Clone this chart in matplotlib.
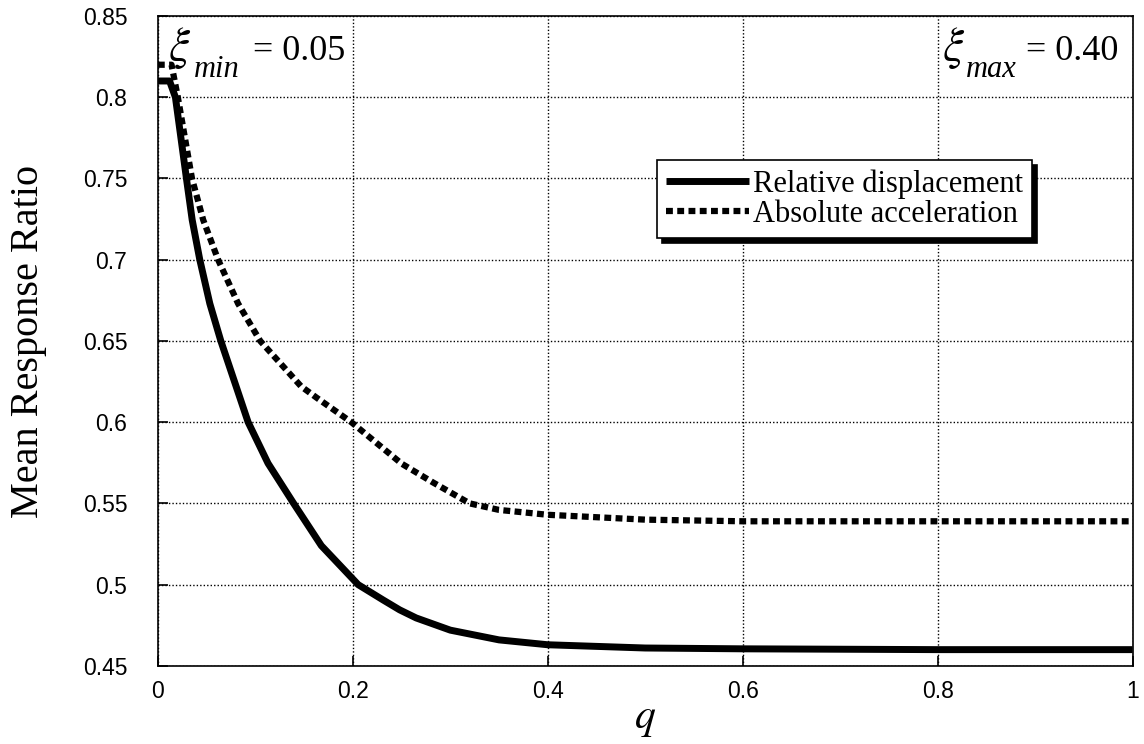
import matplotlib.pyplot as plt
import numpy as np

plt.rcParams['mathtext.fontset'] = 'stix'

# relative displacement (solid)
q_disp = [0, 0.012, 0.018, 0.0293, 0.0352, 0.043, 0.0533, 0.0646, 0.0926, 0.113,
          0.1393, 0.1677, 0.2055, 0.231, 0.248, 0.265, 0.30, 0.35, 0.40, 0.50,
          0.60, 0.80, 1.0]
r_disp = [0.81, 0.81, 0.80, 0.75, 0.7245, 0.70, 0.673, 0.65, 0.60, 0.5747,
          0.55, 0.524, 0.50, 0.4906, 0.4845, 0.4795, 0.472, 0.466, 0.463, 0.461,
          0.4605, 0.46, 0.46]

# absolute acceleration (dashed)
q_acc = [0, 0.014, 0.0205, 0.035, 0.0465, 0.0618, 0.0823, 0.105, 0.135, 0.147,
         0.163, 0.1985, 0.25, 0.282, 0.32, 0.35, 0.40, 0.50, 0.60, 0.80, 1.0]
r_acc = [0.82, 0.82, 0.80, 0.75, 0.7245, 0.70, 0.673, 0.65, 0.63, 0.622,
         0.615, 0.60, 0.5745, 0.563, 0.55, 0.546, 0.543, 0.540, 0.539, 0.539, 0.539]

xticks = [0, 0.2, 0.4, 0.6, 0.8, 1]
xlabels = ['0', '0.2', '0.4', '0.6', '0.8', '1']
yticks = [0.45, 0.5, 0.55, 0.6, 0.65, 0.7, 0.75, 0.8, 0.85]
ylabels = ['0.45', '0.5', '0.55', '0.6', '0.65', '0.7', '0.75', '0.8', '0.85']

fig = plt.figure(figsize=(11.44, 7.44), dpi=100)
ax = fig.add_axes([0.138, 0.105, 0.852, 0.8735])

ax.plot(q_disp, r_disp, color='black', lw=5, solid_capstyle='butt',
        solid_joinstyle='round', label='Relative displacement')
ax.plot(q_acc, r_acc, color='black', lw=4.5, linestyle=(0, (1.1, 0.7)),
        dash_capstyle='butt', label='Absolute acceleration')

ax.set_xlim(0, 1)
ax.set_ylim(0.45, 0.85)
ax.set_xticks(xticks)
ax.set_xticklabels(xlabels)
ax.set_yticks(yticks)
ax.set_yticklabels(ylabels)
ax.tick_params(direction='in', length=7, width=1.2, labelsize=16.5)
ax.tick_params(axis='x', pad=10)
ax.tick_params(axis='y', pad=22)
for lab in ax.get_xticklabels() + ax.get_yticklabels():
    lab.set_family('Liberation Sans')

ax.grid(True, color='black', linestyle=(0, (1, 1.5)), lw=1)
for s in ax.spines.values():
    s.set_linewidth(1.2)

ax.set_xlabel('$q$', fontsize=30, labelpad=-4)
ax.set_ylabel('Mean Response Ratio', fontsize=29, family='Liberation Serif', labelpad=26)

# damping limits
ax.text(0.0103, 0.823, r'$\xi$', fontsize=34, va='baseline')
ax.text(0.037, 0.8125, 'min', fontsize=22, style='italic', family='Liberation Serif', va='baseline')
ax.text(0.0974, 0.823, '= 0.05', fontsize=26, family='Liberation Serif', va='baseline')
ax.text(0.805, 0.823, r'$\xi$', fontsize=34, va='baseline')
ax.text(0.8295, 0.8125, 'max', fontsize=22, style='italic', family='Liberation Serif', va='baseline')
ax.text(0.891, 0.823, '= 0.40', fontsize=26, family='Liberation Serif', va='baseline')

leg = ax.legend(loc='upper left', bbox_to_anchor=(0.512, 0.778), borderaxespad=0,
                fancybox=False, shadow={'color': 'black', 'alpha': 1, 'ox': 3.5, 'oy': -3.5},
                framealpha=1, edgecolor='black', handlelength=2.7, handletextpad=0.15,
                labelspacing=0.02, borderpad=0.3,
                prop={'family': 'Liberation Serif', 'size': 22})
leg.get_frame().set_linewidth(1.2)

fig.savefig('out.png', dpi=100)
